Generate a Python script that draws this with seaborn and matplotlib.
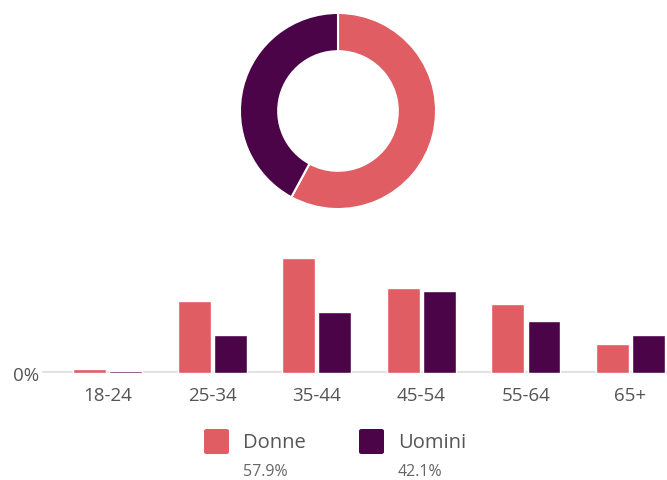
import numpy as np
import pandas as pd
import matplotlib.pyplot as plt
import seaborn as sns
from matplotlib.patches import FancyBboxPatch

# data (share of all visitors, %)
age_groups = ["18-24", "25-34", "35-44", "45-54", "55-64", "65+"]
donne = [0.6, 11.1, 17.8, 13.2, 10.7, 4.5]
uomini = [0.3, 5.9, 9.4, 12.7, 8.0, 5.8]
genders = ["Donne", "Uomini"]
shares = [57.9, 42.1]

pink = "#e05d63"
purple = "#4a0447"
palette = {"Donne": pink, "Uomini": purple}

df = pd.DataFrame({
    "age": age_groups * 2,
    "gender": ["Donne"] * len(age_groups) + ["Uomini"] * len(age_groups),
    "value": donne + uomini,
})

sns.set_style("white")
plt.rcParams["font.family"] = ["Open Sans", "DejaVu Sans"]

fig = plt.figure(figsize=(6.67, 4.81), dpi=100)
W, H = 667, 481

# donut
ax_d = fig.add_axes([238 / W, (H - 212) / H, 200 / W, 200 / H])
ax_d.pie(shares, colors=[palette[g] for g in genders], startangle=90,
         counterclock=False, radius=1,
         wedgeprops=dict(width=0.39, edgecolor="white", linewidth=1.5))
ax_d.set_xlim(-1.02, 1.02)
ax_d.set_ylim(-1.02, 1.02)
ax_d.set_aspect("equal")
ax_d.axis("off")

# bars
ax = fig.add_axes([42 / W, (H - 374) / H, (W - 42) / W, 134 / H])
sns.barplot(data=df, x="age", y="value", hue="gender", order=age_groups,
            hue_order=genders, palette=palette, width=0.69, gap=0.09,
            saturation=1, legend=False, ax=ax, zorder=3)
ax.axhline(0, color="#e3e3e3", lw=3, zorder=1)
ax.set_xlim(-0.63, 5.35)
ax.set_ylim(0, 20.7)
ax.set_yticks([0])
ax.set_yticklabels(["0%"])
ax.set_xlabel("")
ax.set_ylabel("")
ax.tick_params(axis="x", length=0, pad=9.5, labelsize=13.5, labelcolor="#555555")
ax.tick_params(axis="y", length=0, pad=2, labelsize=13.5, labelcolor="#555555")
sns.despine(ax=ax, left=True, bottom=True)

# legend below the bars
items = [(204, 243, "Donne"), (359, 398, "Uomini")]
for (sx, tx, name), g in zip(items, genders):
    box = FancyBboxPatch((sx / W, (H - 455) / H), 25 / W, 25 / H,
                         boxstyle="round,pad=0,rounding_size=0.004",
                         transform=fig.transFigure, facecolor=palette[g],
                         edgecolor="none")
    fig.patches.append(box)
    fig.text(tx / W, 1 - 443 / H, name, fontsize=14.5, color="#555555",
             va="center", ha="left")
for (sx, tx, name), s in zip(items, shares):
    fig.text(tx / W, 1 - 472 / H, f"{s:.1f}%", fontsize=11.5, color="#666666",
             va="center", ha="left")

plt.savefig("out.png", dpi=100)
